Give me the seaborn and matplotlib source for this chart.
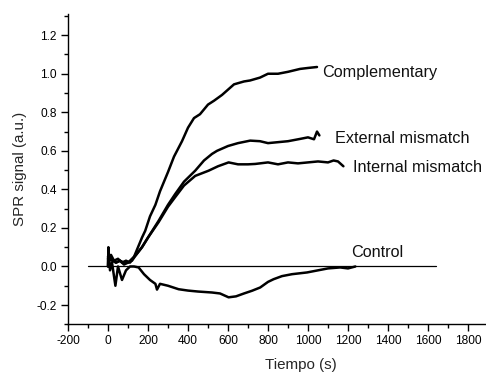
import matplotlib
matplotlib.use("Agg")
import matplotlib.pyplot as plt
from matplotlib.ticker import MultipleLocator
import seaborn as sns
import pandas as pd

# ---- data ----
comp_t = [0, 2, 5, 15, 30, 50, 70, 90, 110, 130, 150, 170, 186, 210, 237, 260, 300, 330, 370, 400,
          430, 460, 500, 530, 570, 630, 680, 710, 760, 800, 850, 900, 960, 1000, 1045]
comp_v = [0.0, 0.1, 0.05, 0.06, 0.03, 0.04, 0.02, 0.03, 0.02, 0.05, 0.1, 0.15, 0.185, 0.26, 0.32, 0.39,
          0.49, 0.57, 0.65, 0.72, 0.77, 0.79, 0.84, 0.86, 0.89, 0.945, 0.96, 0.965, 0.98, 1.0, 1.0,
          1.01, 1.025, 1.03, 1.035]

ext_t = [0, 20, 40, 60, 80, 100, 120, 140, 170, 200, 253, 300, 336, 380, 436, 480, 520, 545, 600,
         650, 711, 760, 800, 850, 900, 961, 1000, 1030, 1045, 1057]
ext_v = [0.05, 0.04, 0.02, 0.03, 0.02, 0.02, 0.04, 0.06, 0.1, 0.15, 0.237, 0.32, 0.376, 0.44, 0.497,
         0.55, 0.584, 0.60, 0.625, 0.64, 0.653, 0.65, 0.64, 0.645, 0.65, 0.662, 0.67, 0.66, 0.70, 0.68]

int_t = [0, 20, 40, 60, 80, 100, 120, 140, 170, 200, 253, 300, 336, 380, 436, 503, 550, 603, 650,
         700, 736, 800, 850, 900, 950, 1000, 1050, 1100, 1128, 1150, 1177]
int_v = [0.04, 0.03, 0.02, 0.03, 0.01, 0.02, 0.03, 0.06, 0.1, 0.15, 0.23, 0.31, 0.36, 0.42, 0.47,
         0.497, 0.52, 0.54, 0.53, 0.53, 0.532, 0.54, 0.53, 0.54, 0.535, 0.54, 0.545, 0.54, 0.55,
         0.545, 0.52]

ctrl_t = [0, 2, 10, 20, 37, 50, 70, 90, 110, 130, 153, 180, 210, 237, 245, 260, 300, 353, 400, 450,
          520, 560, 603, 640, 680, 720, 761, 800, 828, 870, 920, 995, 1050, 1100, 1161, 1200, 1237]
ctrl_v = [0.0, 0.09, -0.02, 0.02, -0.1, 0.0, -0.07, -0.02, 0.0, 0.0, -0.005, -0.04, -0.07, -0.09,
          -0.12, -0.09, -0.1, -0.118, -0.125, -0.13, -0.135, -0.14, -0.16, -0.155, -0.14, -0.126,
          -0.109, -0.08, -0.066, -0.05, -0.04, -0.031, -0.02, -0.01, -0.005, -0.01, 0.0]

base_t = [-100, 1640]
base_v = [0.0, 0.0]

labels = ["Complementary", "External mismatch", "Internal mismatch", "Control"]
label_pos = [(1072, 0.985), (1133, 0.639), (1225, 0.488), (1215, 0.047)]

x_ticks = [-200, 0, 200, 400, 600, 800, 1000, 1200, 1400, 1600, 1800]
y_ticks = [-0.2, 0.0, 0.2, 0.4, 0.6, 0.8, 1.0, 1.2]

# ---- style ----
sns.set_style("ticks")
plt.rcParams["font.family"] = ["Liberation Sans", "DejaVu Sans"]
plt.rcParams["axes.unicode_minus"] = False

fig = plt.figure(figsize=(4.86, 3.72), dpi=100)
ax = fig.add_axes([68 / 486, 1 - 324.3 / 372, 1 - 68 / 486, (324.3 - 14) / 372])

series = [(comp_t, comp_v), (ext_t, ext_v), (int_t, int_v), (ctrl_t, ctrl_v)]
for (t, v), name in zip(series, labels):
    df = pd.DataFrame({"t": t, "v": v})
    sns.lineplot(data=df, x="t", y="v", ax=ax, color="black", linewidth=1.8,
                 estimator=None, sort=False)

sns.lineplot(x=base_t, y=base_v, ax=ax, color="black", linewidth=0.9, estimator=None)

for name, (tx, ty) in zip(labels, label_pos):
    ax.text(tx, ty, name, fontsize=11.7, ha="left", va="baseline", color="#111111")

ax.set_xlim(-200, 1890)
ax.set_ylim(-0.3, 1.31)
ax.set_xticks(x_ticks)
ax.set_yticks(y_ticks)
ax.set_xticklabels([str(x) for x in x_ticks])
ax.set_yticklabels([f"{y:.1f}" for y in y_ticks])
ax.xaxis.set_minor_locator(MultipleLocator(100))
ax.yaxis.set_minor_locator(MultipleLocator(0.1))
ax.tick_params(which="major", direction="out", length=5, width=1, labelsize=8.6,
               colors="black", pad=3)
ax.tick_params(which="minor", direction="out", length=3, width=1, colors="black")

for s in ["top", "right"]:
    ax.spines[s].set_visible(False)
for s in ["left", "bottom"]:
    ax.spines[s].set_linewidth(1.0)
    ax.spines[s].set_color("black")

ax.set_xlabel("Tiempo (s)", fontsize=10.9)
ax.set_ylabel("SPR signal (a.u.)", fontsize=10.9)
ax.xaxis.set_label_coords((301 - 68) / 418, -0.108)
ax.yaxis.set_label_coords(-0.097, 0.5)

fig.savefig("out.png", dpi=100)
